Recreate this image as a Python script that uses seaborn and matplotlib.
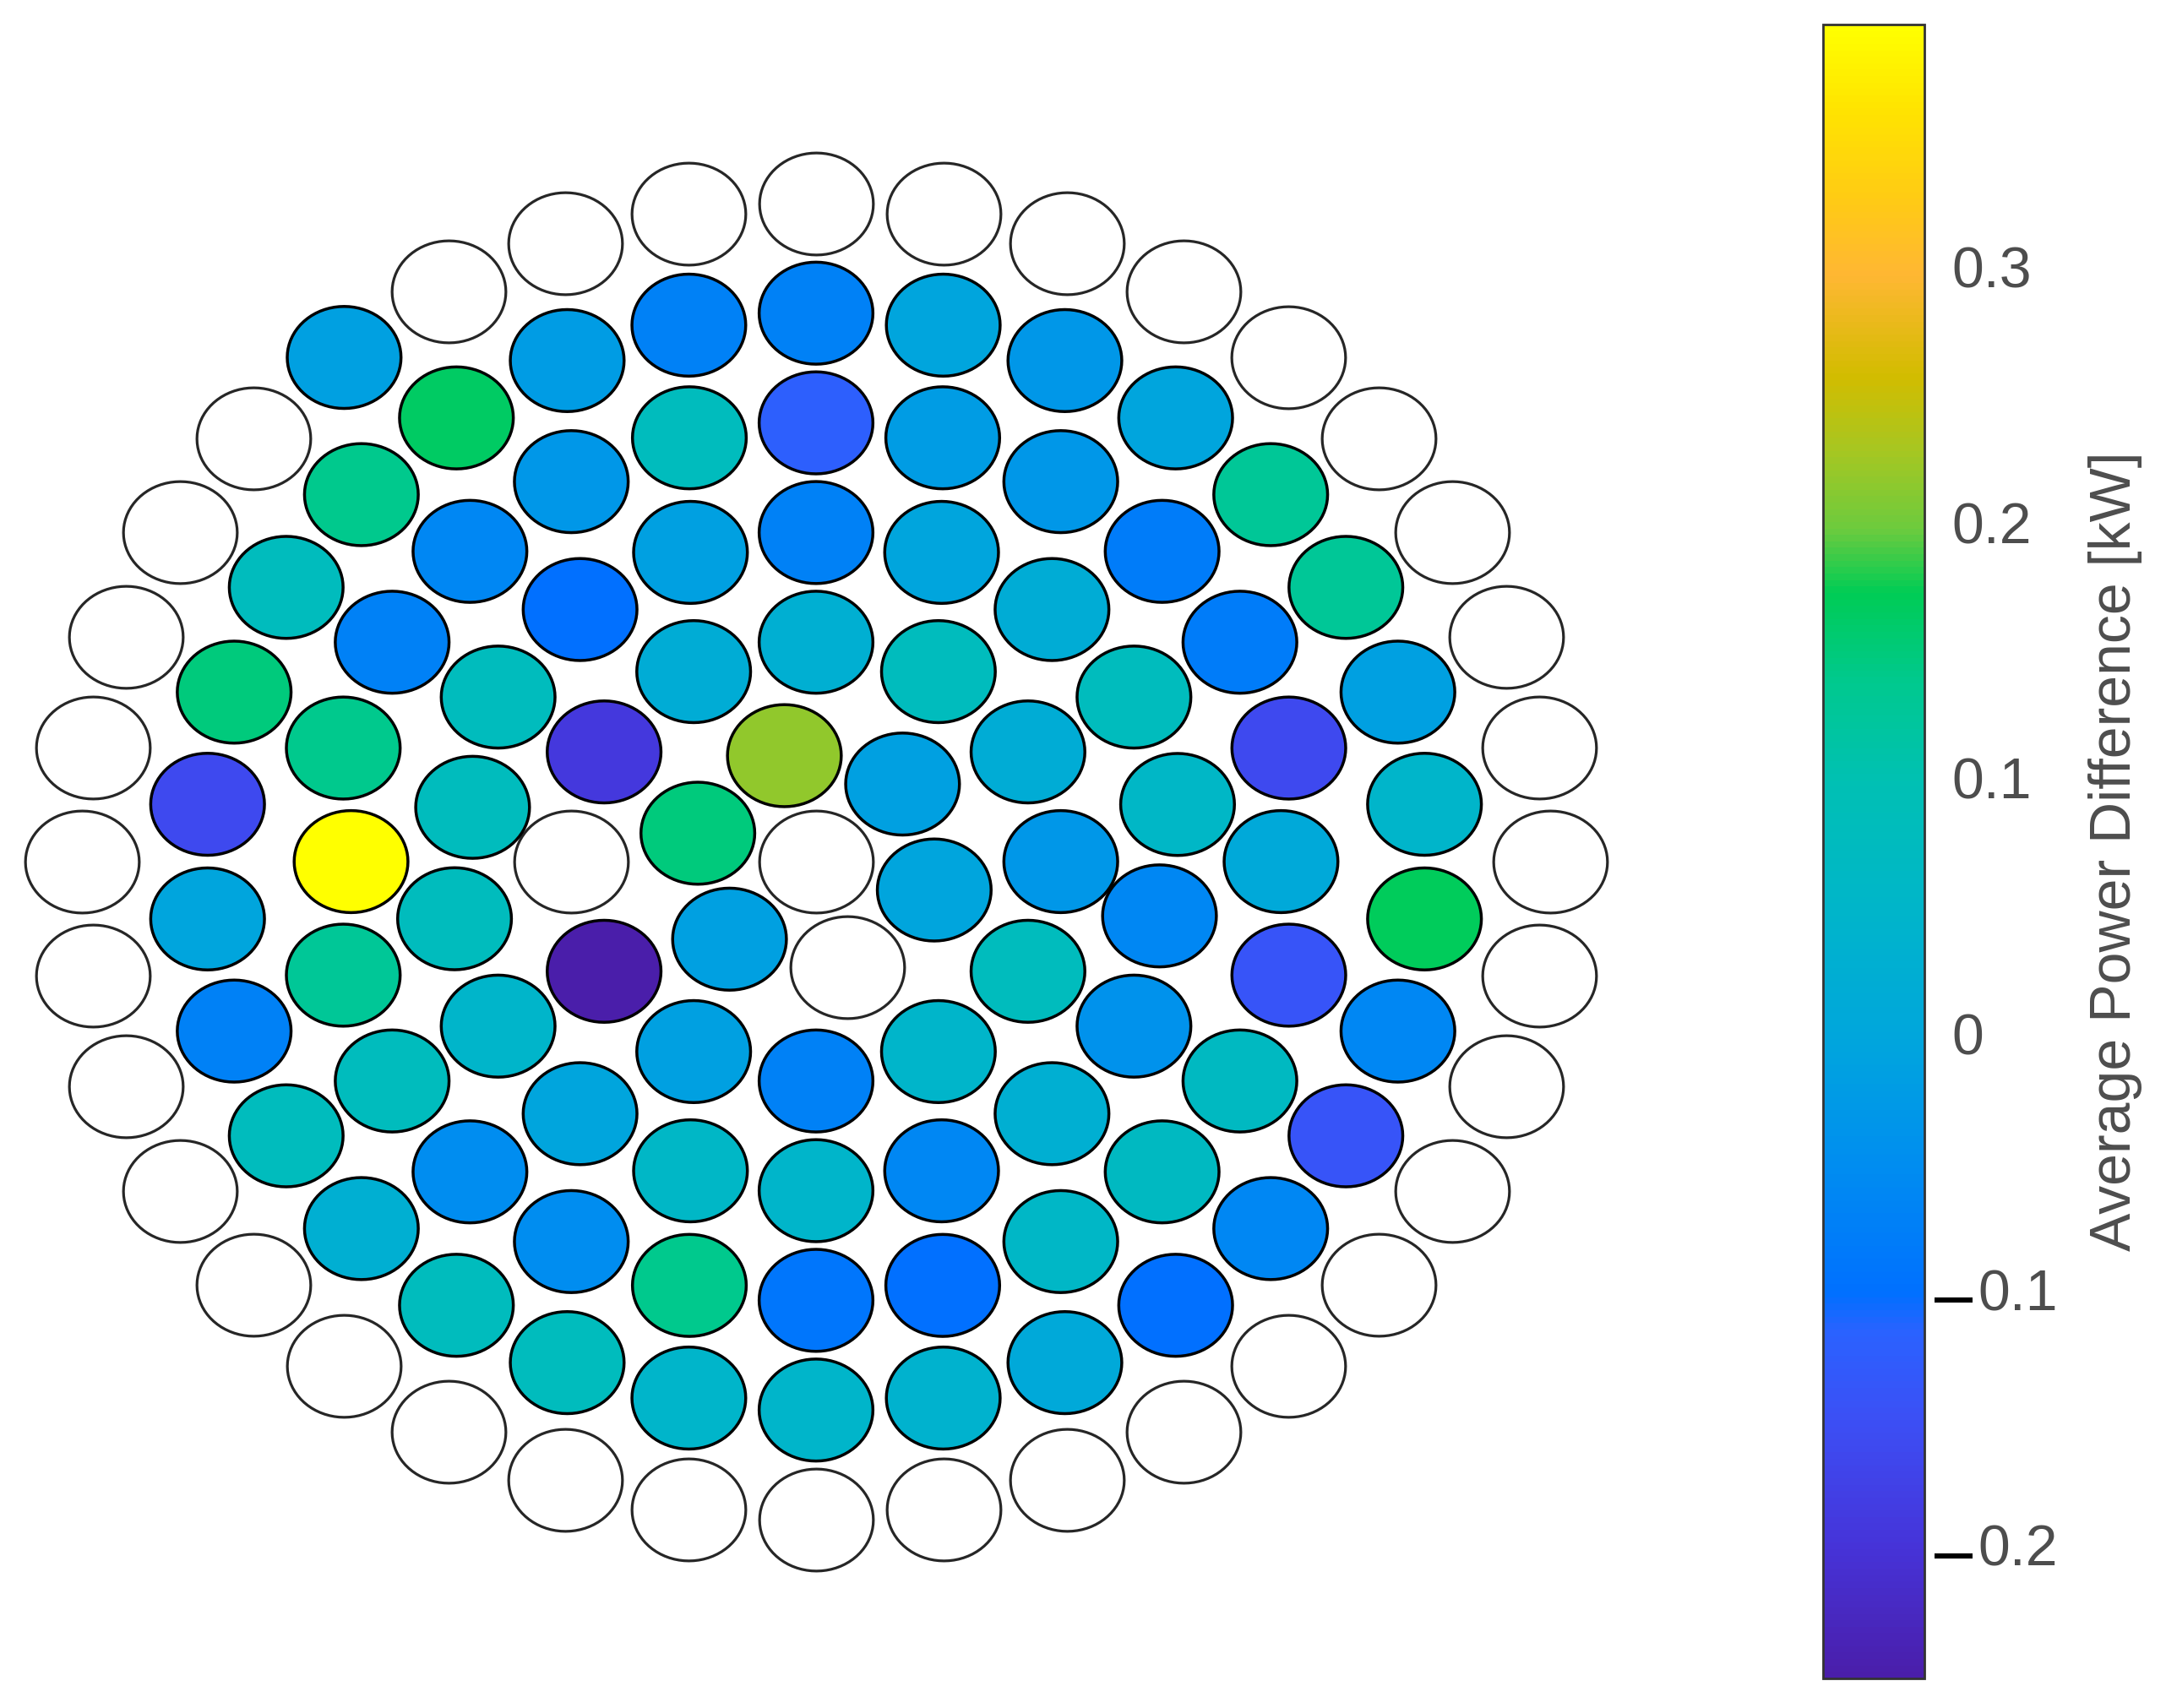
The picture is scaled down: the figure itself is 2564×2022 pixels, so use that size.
import numpy as np
import pandas as pd
import seaborn as sns
import matplotlib.pyplot as plt
import matplotlib.transforms as mtransforms
from matplotlib.path import Path
from matplotlib.colors import LinearSegmentedColormap, Normalize
from matplotlib.cm import ScalarMappable

nan = np.nan

# ------------------------------
# Data: one list per ring, clockwise from the top (nan = empty position)
# ------------------------------
RING_0 = [nan]
RING_1 = [0.22, -0.01, 0.0, nan, -0.01, 0.15]
RING_2 = [0.03, 0.08, 0.02, -0.03, 0.08, 0.05, -0.07, -0.01, -0.25, nan, -0.19, 0.02]
RING_3 = [-0.07, 0.0, 0.02, 0.08, 0.06, -0.06, -0.04, 0.03, -0.06,
          0.05, 0.06, 0.0, 0.05, 0.08, 0.08, 0.08, -0.10, -0.01]
RING_4 = [-0.12, -0.02, -0.03, -0.08, -0.08, -0.16, 0.01, -0.14, 0.07, 0.07, 0.06, -0.10,
          -0.09, 0.14, -0.05, -0.05, 0.08, 0.13, 0.397, 0.14, -0.07, -0.06, -0.03, 0.08]
RING_5 = [-0.07, 0.0, -0.03, 0.0, 0.13, 0.13, -0.01, 0.05, 0.17, -0.06, -0.14, -0.06, -0.10, 0.01, 0.04,
          0.05, 0.05, 0.08, 0.08, 0.03, 0.08, -0.07, 0.0, -0.16, 0.15, 0.08, 0.14, 0.165, -0.02, -0.07]
RING_6 = [nan] * 32 + [-0.01] + [nan] * 3
RINGS = [RING_0, RING_1, RING_2, RING_3, RING_4, RING_5, RING_6]

# layout of the core: first angle in each ring (deg) and a few positions sitting slightly inward
RING_START = [0, -15, 0, 0, 0, 0, 0]
RADIAL_TRIM = {(3, 5): -0.15, (3, 14): -0.15, (4, 6): -0.2, (4, 18): -0.2}

CBAR_TICKS = [-0.2, -0.1, 0, 0.1, 0.2, 0.3]
CBAR_LABEL = 'Average Power Difference [kW]'

# parula-like colour anchors (value, colour)
CMAP_VALUES = [-0.25, -0.2, -0.15, -0.115, -0.1, -0.05, 0.0, 0.05, 0.1, 0.14, 0.175,
               0.2, 0.23, 0.26, 0.3, 0.33, 0.365, 0.397]
CMAP_COLORS = ['#4A1EAA', '#4633D8', '#3C4FF5', '#2A62FF', '#0070FF', '#008DF0', '#00A6DC',
               '#00B5CA', '#00C0B4', '#00C98E', '#00CC55', '#6CCB3E', '#A5C722', '#D2BC00',
               '#FFB733', '#FFCB14', '#FFE400', '#FFFF00']

# ------------------------------
# Build positions
# ------------------------------
rows = []
for k, ring in enumerate(RINGS):
    n = len(ring)
    for i, v in enumerate(ring):
        th = np.deg2rad(RING_START[k] + 360.0 * i / n)
        r = k + RADIAL_TRIM.get((k, i), 0.0)
        rows.append((r * np.sin(th), r * np.cos(th), v))
df = pd.DataFrame(rows, columns=['x', 'y', 'value'])

vmin, vmax = df['value'].min(), df['value'].max()
norm = Normalize(vmin=vmin, vmax=vmax)
pos = [(v - vmin) / (vmax - vmin) for v in CMAP_VALUES]
pos[0], pos[-1] = 0.0, 1.0
cmap = LinearSegmentedColormap.from_list('parula_like', list(zip(pos, CMAP_COLORS)))

# ------------------------------
# Figure
# ------------------------------
sns.set_style('white')
plt.rcParams['font.family'] = ['Liberation Sans', 'DejaVu Sans']

DPI = 200
fig = plt.figure(figsize=(2564 / DPI, 2022 / DPI), dpi=DPI)
ax = fig.add_axes([0.0039, 0.0717, 0.7457, 0.8477])
lim = 6.6
ax.set_xlim(-lim, lim)
ax.set_ylim(-lim, lim)
ax.axis('off')

# elliptical marker so circles follow the stretched data aspect
W, H = fig.get_size_inches() * DPI
xpx = 0.7457 * W / (2 * lim)
ypx = 0.8477 * H / (2 * lim)
R = 0.465
t = np.linspace(0, 2 * np.pi, 73)
ell = Path(np.column_stack([np.cos(t), (ypx / xpx) * np.sin(t)]), closed=True)
size = (2 * R * xpx / DPI * 72) ** 2

sns.scatterplot(data=df[df['value'].isna()], x='x', y='y', color='white',
                edgecolor='#262626', linewidth=1.15, marker=ell, s=size,
                legend=False, ax=ax)
sns.scatterplot(data=df[df['value'].notna()], x='x', y='y', hue='value',
                palette=cmap, hue_norm=norm, edgecolor='black', linewidth=1.25,
                marker=ell, s=size, legend=False, ax=ax)
ax.set_xlim(-lim, lim)
ax.set_ylim(-lim, lim)

# ------------------------------
# Colorbar
# ------------------------------
cax = fig.add_axes([0.8417, 0.0173, 0.0468, 0.9684])
cb = fig.colorbar(ScalarMappable(norm=norm, cmap=cmap), cax=cax)
cb.outline.set_edgecolor('#333333')
cb.outline.set_linewidth(1.0)
cb.set_ticks(CBAR_TICKS)
cax.set_yticklabels([])
cax.tick_params(axis='y', direction='in', length=4.5, width=0.9, color='#262626', right=True)

FS = 24.5
txt_color = '#4d4d4d'
trans = mtransforms.blended_transform_factory(cax.transAxes, cax.transData)
for v in CBAR_TICKS:
    if v < 0:
        cax.text(1.53, v, f'{abs(v):g}', transform=trans, ha='left', va='center',
                 color=txt_color, fontsize=FS)
        cax.plot([1.10, 1.47], [v - 0.002, v - 0.002], color='black', lw=2.2,
                 transform=trans, clip_on=False, solid_capstyle='butt')
    else:
        cax.text(1.27, v, f'{v:g}', transform=trans, ha='left', va='center',
                 color=txt_color, fontsize=FS)

cax.text(2.88, 0.5, CBAR_LABEL, transform=cax.transAxes, rotation=90,
         ha='center', va='center', color=txt_color, fontsize=FS)

plt.savefig('out.png', dpi=DPI, facecolor='white')
